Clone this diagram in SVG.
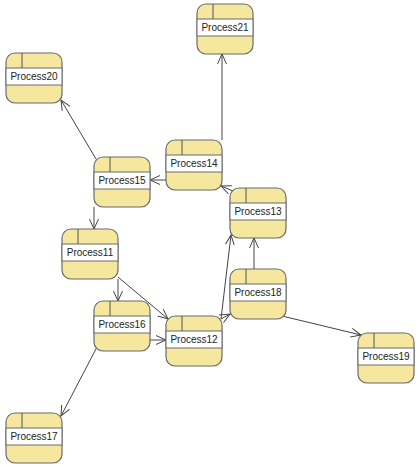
<svg xmlns="http://www.w3.org/2000/svg" xmlns:xlink="http://www.w3.org/1999/xlink" width="418" height="467" viewBox="0 0 418 467">
<style>
.body{fill:#F5E79E;stroke:#6B6B6B;stroke-width:1.2}
.band{fill:#FFFFFF;stroke:#6B6B6B;stroke-width:1}
.div{stroke:#6B6B6B;stroke-width:1.2}
.lbl{font-family:"Liberation Sans",Arial,sans-serif;font-size:10px;fill:#222;text-anchor:middle}
.edge{fill:none;stroke:#444;stroke-width:1;marker-end:url(#arr)}
</style>
<defs>
<marker id="arr" markerUnits="userSpaceOnUse" markerWidth="12" markerHeight="12" refX="10" refY="5" orient="auto" viewBox="0 0 12 10">
<path d="M0,0.5 L10,5 L0,9.5" fill="none" stroke="#444" stroke-width="1"/>
</marker>
<g id="shape">
<rect class="body" x="0" y="0" width="56" height="50" rx="9"/>
<rect class="band" x="0" y="15" width="56" height="17"/>
<line class="div" x1="16" y1="0" x2="16" y2="15"/>
</g>
</defs>
<g id="connectors">
<path class="edge" d="M222,140 L222,54"/>
<path class="edge" d="M96,159 L61,100"/>
<path class="edge" d="M166,180 L150,180"/>
<path class="edge" d="M233,191 L221,186"/>
<path class="edge" d="M94,207 L94,229"/>
<path class="edge" d="M118,279 L118,301"/>
<path class="edge" d="M118,277 L168,319"/>
<path class="edge" d="M150,340 L166,340"/>
<path class="edge" d="M97,347 L61,416"/>
<path class="edge" d="M221,319 L231,235"/>
<path class="edge" d="M221,319 L230,314"/>
<path class="edge" d="M254,269 L254,238"/>
<path class="edge" d="M282,316 L361,335"/>
</g>
<g id="Process21" transform="translate(197,4)"><use xlink:href="#shape"/><text class="lbl" x="28" y="27">Process21</text></g>
<g id="Process20" transform="translate(6,53)"><use xlink:href="#shape"/><text class="lbl" x="28" y="27">Process20</text></g>
<g id="Process14" transform="translate(166,140)"><use xlink:href="#shape"/><text class="lbl" x="28" y="27">Process14</text></g>
<g id="Process15" transform="translate(94,157)"><use xlink:href="#shape"/><text class="lbl" x="28" y="27">Process15</text></g>
<g id="Process13" transform="translate(230,188)"><use xlink:href="#shape"/><text class="lbl" x="28" y="27">Process13</text></g>
<g id="Process11" transform="translate(62,229)"><use xlink:href="#shape"/><text class="lbl" x="28" y="27">Process11</text></g>
<g id="Process18" transform="translate(230,269)"><use xlink:href="#shape"/><text class="lbl" x="28" y="27">Process18</text></g>
<g id="Process16" transform="translate(94,301)"><use xlink:href="#shape"/><text class="lbl" x="28" y="27">Process16</text></g>
<g id="Process12" transform="translate(166,316)"><use xlink:href="#shape"/><text class="lbl" x="28" y="27">Process12</text></g>
<g id="Process19" transform="translate(358,333)"><use xlink:href="#shape"/><text class="lbl" x="28" y="27">Process19</text></g>
<g id="Process17" transform="translate(6,413)"><use xlink:href="#shape"/><text class="lbl" x="28" y="27">Process17</text></g>
</svg>
